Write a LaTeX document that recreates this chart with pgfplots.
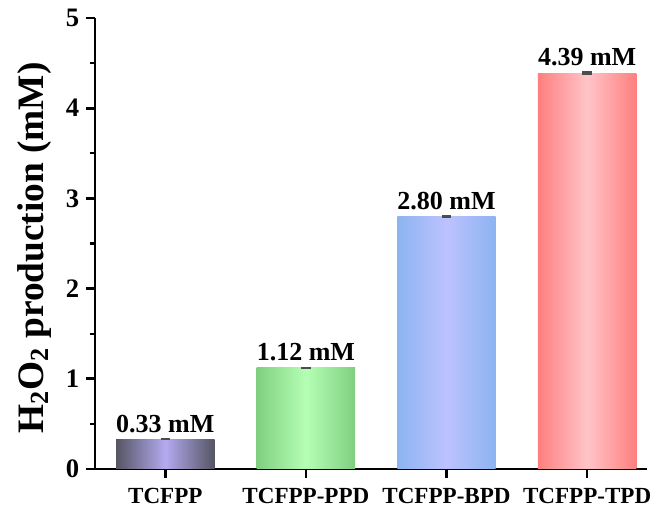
\documentclass[border=0pt]{standalone}
\usepackage{fontspec}
\setmainfont{Liberation Serif}
\usepackage{pgfplots}
\pgfplotsset{compat=1.18}

% bar shading colours: edge / centre
\definecolor{c1e}{HTML}{555563}
\definecolor{c1m}{HTML}{B4AAF0}
\definecolor{c2e}{HTML}{80CF80}
\definecolor{c2m}{HTML}{B4FFB4}
\definecolor{c3e}{HTML}{8CB4F0}
\definecolor{c3m}{HTML}{BCC2FF}
\definecolor{c4e}{HTML}{FF7F7F}
\definecolor{c4m}{HTML}{FFC4C8}

\begin{document}
\begin{tikzpicture}
\begin{axis}[
  scale only axis,
  width=414pt, height=338.25pt,
  xmin=-0.5, xmax=3.426,
  ymin=0, ymax=5,
  axis lines*=left,
  axis line style={line width=2.2pt, -},
  xtick={0,1,2,3},
  xticklabels={TCFPP, TCFPP-PPD, TCFPP-BPD, TCFPP-TPD},
  ytick={0,1,2,3,4,5},
  minor ytick={0.5,1.5,2.5,3.5,4.5},
  tick align=outside,
  major tick length=6.75pt,
  minor tick length=4pt,
  every tick/.style={black, line width=2pt},
  minor tick style={line width=1.6pt},
  /pgf/number format/assume math mode=true,
  xticklabel style={font=\fontsize{17.3}{19}\selectfont\bfseries, yshift=-4pt},
  yticklabel style={font=\fontsize{20}{22}\selectfont\bfseries, xshift=-1.5pt},
  ylabel={H\textsubscript{2}O\textsubscript{2} production (mM)},
  ylabel style={font=\fontsize{28}{31}\selectfont\bfseries,
                at={(axis description cs:-0.0942,0.49)}, anchor=base},
  bar width=0.7,
  nodes near coords={\pgfmathprintnumber[fixed, precision=2, fixed zerofill]{\pgfplotspointmeta}~mM},
  every node near coord/.style={font=\fontsize{19.5}{21}\selectfont\bfseries, black, anchor=south, yshift=1.5pt},
  error bars/y dir=both,
  error bars/y explicit,
  error bars/error bar style={line width=1pt, black!70},
  error bars/error mark options={rotate=90, mark size=3.5pt, line width=1.2pt, black!70},
  clip=false,
]
\addplot[ybar, bar shift=0pt, draw=none, left color=c1e, right color=c1e, middle color=c1m]
  coordinates {(0,0.33) +- (0,0.004)};
\addplot[ybar, bar shift=0pt, draw=none, left color=c2e, right color=c2e, middle color=c2m]
  coordinates {(1,1.12) +- (0,0.004)};
\addplot[ybar, bar shift=0pt, draw=none, left color=c3e, right color=c3e, middle color=c3m]
  coordinates {(2,2.80) +- (0,0.004)};
\addplot[ybar, bar shift=0pt, draw=none, left color=c4e, right color=c4e, middle color=c4m]
  coordinates {(3,4.39) +- (0,0.012)};
\coordinate (O) at (rel axis cs:0,0);
\end{axis}
% page frame around the plot
\pgfresetboundingbox
\path (O) ++(-71.25pt,-33pt) rectangle ++(488.25pt,384.75pt);
\end{tikzpicture}
\end{document}
